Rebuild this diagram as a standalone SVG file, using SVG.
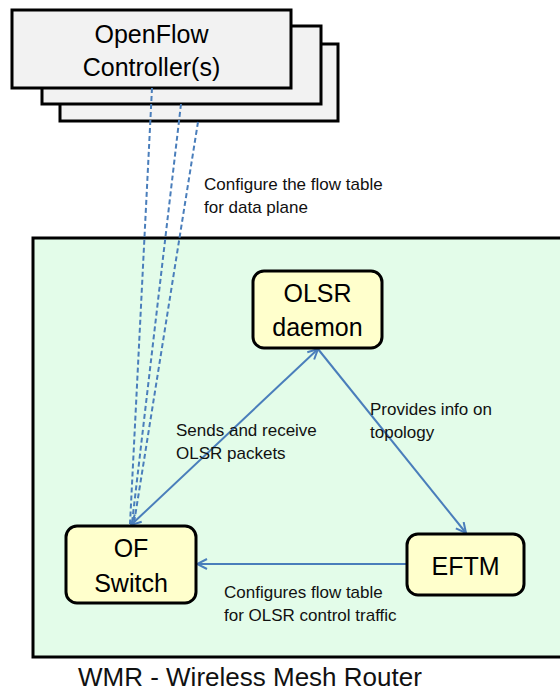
<svg xmlns="http://www.w3.org/2000/svg" width="560" height="691" viewBox="0 0 560 691">
  <style>
    .ctrl { fill: #f2f2f2; stroke: #000; stroke-width: 3; }
    .node { fill: #ffffcc; stroke: #000; stroke-width: 3; }
    .big { font-family: "Liberation Sans", Arial, sans-serif; font-size: 25px; fill: #000; text-anchor: middle; }
    .label { font-family: "Liberation Sans", Arial, sans-serif; font-size: 17px; fill: #111; }
    .link { stroke: #4a7ebb; stroke-width: 2; fill: none; }
    .dash { stroke: #4a7ebb; stroke-width: 2; fill: none; stroke-dasharray: 5 3; }
  </style>
  <defs>
    <marker id="arrow" markerUnits="userSpaceOnUse" viewBox="0 0 12 12" markerWidth="12" markerHeight="12" refX="11" refY="6" orient="auto-start-reverse">
      <path d="M1,1 L11,6 L1,11" fill="none" stroke="#4a7ebb" stroke-width="2"/>
    </marker>
  </defs>

  <rect width="560" height="691" fill="#ffffff"/>

  <!-- router enclosure -->
  <g id="wmr">
    <rect x="33" y="238" width="540" height="419" fill="#e3fce9" stroke="#000" stroke-width="3"/>
    <text x="78" y="686" font-family="'Liberation Sans', Arial, sans-serif" font-size="26" fill="#111">WMR - Wireless Mesh Router</text>
  </g>

  <!-- stacked controllers -->
  <g id="controller">
    <rect class="ctrl" x="60" y="44" width="278" height="77"/>
    <rect class="ctrl" x="42" y="26" width="279" height="78"/>
    <rect class="ctrl" x="12" y="10" width="279" height="78"/>
    <text class="big" x="151.5" y="43" font-size="26">OpenFlow</text>
    <text class="big" x="151.5" y="76" font-size="26">Controller(s)</text>
  </g>

  <g id="connectors">
    <!-- control channels from the controllers -->
    <line class="dash" x1="152" y1="88" x2="130" y2="524"/>
    <line class="dash" x1="181" y1="104" x2="132" y2="523"/>
    <line class="dash" x1="198" y1="122" x2="134" y2="523"/>
    <!-- OLSR packet exchange -->
    <line class="link" x1="131" y1="525" x2="318" y2="349" marker-start="url(#arrow)" marker-end="url(#arrow)"/>
    <!-- topology info -->
    <line class="link" x1="318" y1="349" x2="466" y2="533" marker-end="url(#arrow)"/>
    <!-- flow table configuration -->
    <line class="link" x1="407" y1="564" x2="197" y2="564" marker-end="url(#arrow)"/>

    <text class="label" x="204" y="190">Configure the flow table</text>
    <text class="label" x="204" y="213">for data plane</text>
    <text class="label" x="176" y="436">Sends and receive</text>
    <text class="label" x="176" y="459">OLSR packets</text>
    <text class="label" x="370" y="415">Provides info on</text>
    <text class="label" x="370" y="438">topology</text>
    <text class="label" x="224" y="598">Configures flow table</text>
    <text class="label" x="224" y="621">for OLSR control traffic</text>
  </g>

  <g id="olsr">
    <rect class="node" x="253" y="271" width="129" height="77" rx="11"/>
    <text class="big" x="317.5" y="302">OLSR</text>
    <text class="big" x="317.5" y="336">daemon</text>
  </g>

  <g id="ofswitch">
    <rect class="node" x="66" y="526" width="130" height="77" rx="11"/>
    <text class="big" x="131" y="557">OF</text>
    <text class="big" x="131" y="592">Switch</text>
  </g>

  <g id="eftm">
    <rect class="node" x="407" y="534" width="117" height="61" rx="11"/>
    <text class="big" x="465.5" y="575">EFTM</text>
  </g>
</svg>
